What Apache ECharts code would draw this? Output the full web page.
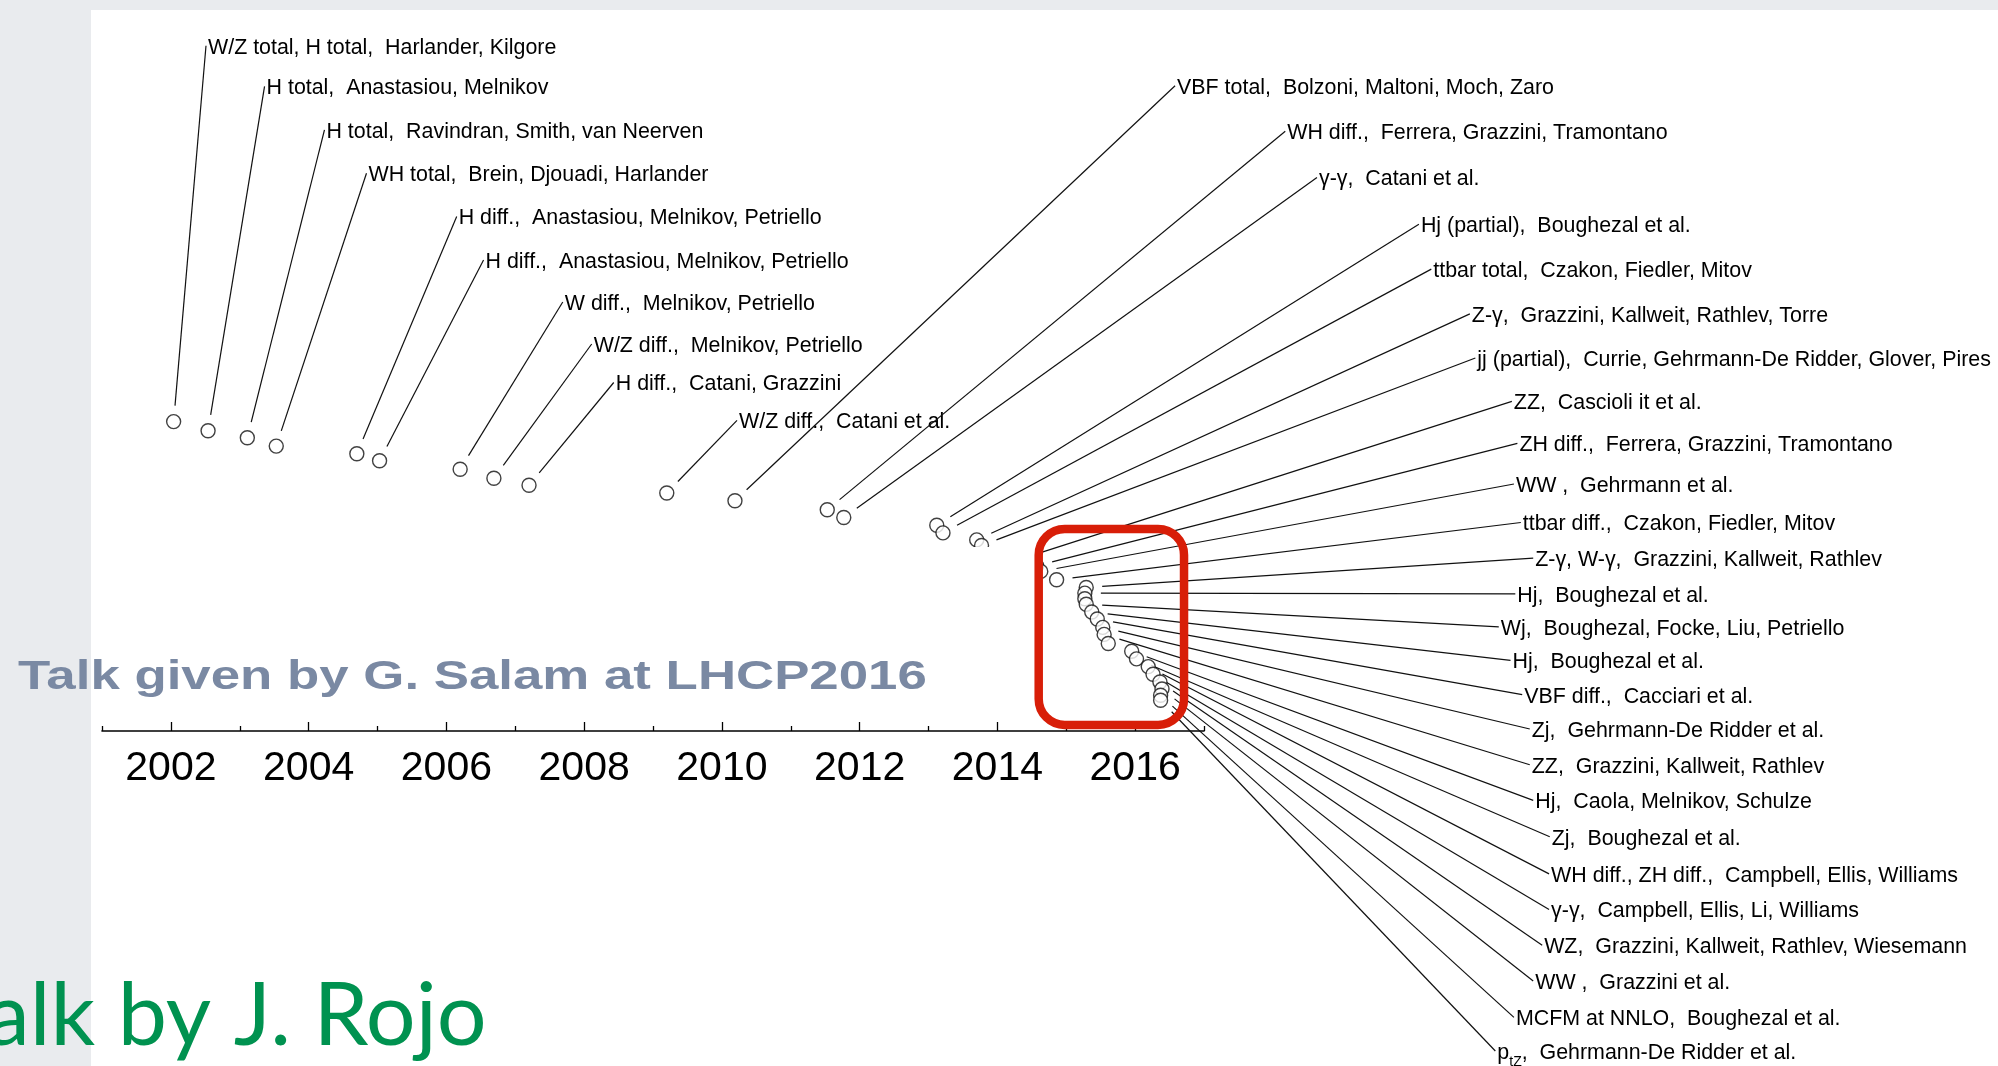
<!DOCTYPE html>
<html><head><meta charset="utf-8">
<script src="https://cdn.jsdelivr.net/npm/echarts@6/dist/echarts.min.js"></script>
<style>html,body{margin:0;padding:0;background:#fff;overflow:hidden}#chart{width:1998px;height:1066px}</style>
</head><body><div id="chart"></div>
<script>
// ---- data ----
const yearTicks = [2002, 2004, 2006, 2008, 2010, 2012, 2014, 2016];
const minorYearTicks = [2001, 2003, 2005, 2007, 2009, 2011, 2013, 2015, 2017];

// date of each calculation (years) and its vertical stacking level
const eventYears = [2002.04, 2002.54, 2003.11, 2003.53, 2004.70, 2005.03, 2006.20, 2006.69, 2007.20, 2009.20,
  2010.19, 2011.53, 2011.77, 2013.12, 2013.21, 2013.70, 2013.77, 2014.44, 2014.57, 2014.63,
  2014.86, 2015.29, 2015.27, 2015.27, 2015.29, 2015.37, 2015.45, 2015.53, 2015.55, 2015.61,
  2015.95, 2016.02, 2016.19, 2016.26, 2016.36, 2016.39, 2016.37, 2016.37];
const eventLevels = [44.2, 42.9, 41.9, 40.7, 39.6, 38.6, 37.4, 36.1, 35.1, 34.0,
  32.9, 31.6, 30.5, 29.4, 28.3, 27.3, 26.5, 24.9, 23.6, 22.8,
  21.6, 20.5, 19.7, 18.9, 18.1, 17.0, 16.0, 14.8, 13.8, 12.5,
  11.4, 10.3, 9.2, 8.1, 7.0, 6.0, 5.1, 4.4];
const eventLabels = [
  'W/Z total, H total,  Harlander, Kilgore',
  'H total,  Anastasiou, Melnikov',
  'H total,  Ravindran, Smith, van Neerven',
  'WH total,  Brein, Djouadi, Harlander',
  'H diff.,  Anastasiou, Melnikov, Petriello',
  'H diff.,  Anastasiou, Melnikov, Petriello',
  'W diff.,  Melnikov, Petriello',
  'W/Z diff.,  Melnikov, Petriello',
  'H diff.,  Catani, Grazzini',
  'W/Z diff.,  Catani et al.',
  'VBF total,  Bolzoni, Maltoni, Moch, Zaro',
  'WH diff.,  Ferrera, Grazzini, Tramontano',
  'γ-γ,  Catani et al.',
  'Hj (partial),  Boughezal et al.',
  'ttbar total,  Czakon, Fiedler, Mitov',
  'Z-γ,  Grazzini, Kallweit, Rathlev, Torre',
  'jj (partial),  Currie, Gehrmann-De Ridder, Glover, Pires',
  'ZZ,  Cascioli it et al.',
  'ZH diff.,  Ferrera, Grazzini, Tramontano',
  'WW ,  Gehrmann et al.',
  'ttbar diff.,  Czakon, Fiedler, Mitov',
  'Z-γ, W-γ,  Grazzini, Kallweit, Rathlev',
  'Hj,  Boughezal et al.',
  '',
  'Wj,  Boughezal, Focke, Liu, Petriello',
  'Hj,  Boughezal et al.',
  'VBF diff.,  Cacciari et al.',
  'Zj,  Gehrmann-De Ridder et al.',
  'ZZ,  Grazzini, Kallweit, Rathlev',
  '',
  'Hj,  Caola, Melnikov, Schulze',
  'Zj,  Boughezal et al.',
  'WH diff., ZH diff.,  Campbell, Ellis, Williams',
  'γ-γ,  Campbell, Ellis, Li, Williams',
  'WZ,  Grazzini, Kallweit, Rathlev, Wiesemann',
  'WW ,  Grazzini et al.',
  'MCFM at NNLO,  Boughezal et al.',
  'p_{tZ},  Gehrmann-De Ridder et al.'
];
// where each callout label sits, in the same (year, level) coordinates
const labelYears = [2002.51, 2003.36, 2004.23, 2004.84, 2006.15, 2006.54, 2007.69, 2008.11, 2008.43, 2010.22,
  2016.58, 2018.18, 2018.64, 2020.12, 2020.30, 2020.86, 2020.94, 2021.47, 2021.55, 2021.50,
  2021.60, 2021.78, 2021.52, null, 2021.28, 2021.45, 2021.62, 2021.73, 2021.73, null,
  2021.78, 2022.02, 2022.01, 2022.01, 2021.91, 2021.78, 2021.50, 2021.23];
const labelLevels = [97.6, 91.8, 85.6, 79.4, 73.2, 67.0, 61.0, 55.0, 49.5, 44.1,
  91.9, 85.4, 78.8, 72.1, 65.7, 59.3, 53.0, 46.8, 40.8, 35.0,
  29.5, 24.4, 19.3, null, 14.6, 9.8, 4.9, 0.0, -5.1, null,
  -10.2, -15.4, -20.7, -25.8, -30.9, -36.0, -41.2, -46.0];

// hand-drawn highlight box (year/level corners) and the white patch of the slide
const highlightBox = [2014.60, 28.86, 2016.71, 0.86];
const slidePatch = [2000.84, 26.29, 2014.56, 2.43];

// ---- build ----
const points = eventYears.map((x, i) => [x, eventLevels[i]]);
const leaderData = [];
eventLabels.forEach((t, i) => {
  if (t) leaderData.push([eventYears[i], eventLevels[i], labelYears[i], labelLevels[i], i]);
});

const LABEL_FONT = '"Liberation Sans", Arial, Helvetica, sans-serif';

function renderLeader(params, api) {
  const i = api.value(4);
  const p = api.coord([api.value(0), api.value(1)]);
  const q = api.coord([api.value(2), api.value(3)]);
  const end = [q[0], q[1] - 2];
  const dx = end[0] - p[0], dy = end[1] - p[1];
  const d = Math.hypot(dx, dy);
  const gap = 16;
  const s = [p[0] + dx / d * gap, p[1] + dy / d * gap];
  const txt = eventLabels[i];
  const m = txt.match(/^(.*?)_\{(.*?)\}(.*)$/);
  let style;
  if (m) {
    style = {
      text: '{n|' + m[1] + '}{s|' + m[2] + '}{n|' + m[3] + '}',
      x: q[0] + 2, y: q[1] + 3,
      textAlign: 'left', textVerticalAlign: 'middle',
      rich: {
        n: { fontSize: 21.4, fontFamily: 'Liberation Sans', color: '#000', lineHeight: 27, verticalAlign: 'top' },
        s: { fontSize: 14, fontFamily: 'Liberation Sans', color: '#000', lineHeight: 27, verticalAlign: 'bottom' }
      }
    };
  } else {
    style = {
      text: txt, x: q[0] + 2, y: q[1],
      fill: '#000', font: '21.4px ' + LABEL_FONT,
      textAlign: 'left', textVerticalAlign: 'middle'
    };
  }
  return {
    type: 'group',
    children: [
      { type: 'line', shape: { x1: s[0], y1: s[1], x2: end[0], y2: end[1] },
        style: { stroke: '#111', lineWidth: 1.2 } },
      { type: 'text', style: style }
    ]
  };
}

function rectRender(fill, stroke, lw, r) {
  return function (params, api) {
    const a = api.coord([api.value(0), api.value(1)]);
    const b = api.coord([api.value(2), api.value(3)]);
    return {
      type: 'rect',
      shape: { x: Math.min(a[0], b[0]), y: Math.min(a[1], b[1]),
               width: Math.abs(b[0] - a[0]), height: Math.abs(b[1] - a[1]), r: r },
      style: { fill: fill, stroke: stroke, lineWidth: lw }
    };
  };
}

const chart = echarts.init(document.getElementById('chart'), null, { renderer: 'canvas' });
chart.setOption({
  animation: false,
  backgroundColor: '#ffffff',
  grid: [
    { left: 102, right: 794, top: 31, bottom: 335 },
    { left: 102, right: 794, top: 600, bottom: 335 }
  ],
  xAxis: [
    { gridIndex: 0, type: 'value', min: 2001, max: 2017, position: 'bottom',
      axisLine: { show: true, onZero: false, lineStyle: { color: '#000', width: 1.6 } },
      axisTick: { show: true, inside: true, length: 9, customValues: yearTicks,
                  lineStyle: { color: '#000', width: 1.3 } },
      axisLabel: { show: true, customValues: yearTicks, margin: 17, color: '#000',
                   fontSize: 41, fontFamily: 'Liberation Sans', formatter: v => String(v) },
      splitLine: { show: false } },
    { gridIndex: 1, type: 'value', min: 2001, max: 2017, position: 'bottom',
      axisLine: { show: false, onZero: false },
      axisTick: { show: true, inside: true, length: 5, customValues: minorYearTicks,
                  lineStyle: { color: '#000', width: 1.3 } },
      axisLabel: { show: false }, splitLine: { show: false } }
  ],
  yAxis: [
    { gridIndex: 0, type: 'value', min: 0, max: 100, show: false },
    { gridIndex: 1, type: 'value', min: 0, max: 1, show: false }
  ],
  series: [
    { type: 'custom', name: 'callouts', xAxisIndex: 0, yAxisIndex: 0, z: 2, clip: false,
      renderItem: renderLeader, data: leaderData, silent: true },
    { type: 'scatter', name: 'events', xAxisIndex: 0, yAxisIndex: 0, z: 3,
      symbol: 'circle', symbolSize: 14,
      itemStyle: { color: '#ffffff', borderColor: '#111', borderWidth: 1.4 },
      data: points, silent: true },
    { type: 'custom', name: 'patch', xAxisIndex: 0, yAxisIndex: 0, z: 4, clip: false, silent: true,
      renderItem: rectRender('#ffffff', null, 0, 0), data: [slidePatch] },
    { type: 'custom', name: 'highlight', xAxisIndex: 0, yAxisIndex: 0, z: 5, clip: false, silent: true,
      renderItem: rectRender('none', '#d81e08', 8.5, 26), data: [highlightBox] }
  ],
  graphic: [
    { type: 'rect', z: 1, shape: { x: 0, y: 0, width: 91, height: 1066 }, style: { fill: '#e9ebee' } },
    { type: 'rect', z: 1, shape: { x: 0, y: 0, width: 1998, height: 10 }, style: { fill: '#e9ebee' } },
    { type: 'text', z: 100, x: 18, y: 678, scaleX: 1.288, scaleY: 1,
      style: { text: 'Talk given by G. Salam at LHCP2016', x: 0, y: 0,
               font: 'bold 41px "Liberation Sans", Arial, sans-serif', fill: '#7a89a3',
               textAlign: 'left', textVerticalAlign: 'middle' } },
    { type: 'text', z: 100, x: -14, y: 1017,
      style: { text: 'alk by J. Rojo', x: 0, y: 0,
               font: '88px Lato, "Open Sans", sans-serif', fill: '#009250',
               textAlign: 'left', textVerticalAlign: 'middle' } }
  ]
});
</script>
</body></html>
